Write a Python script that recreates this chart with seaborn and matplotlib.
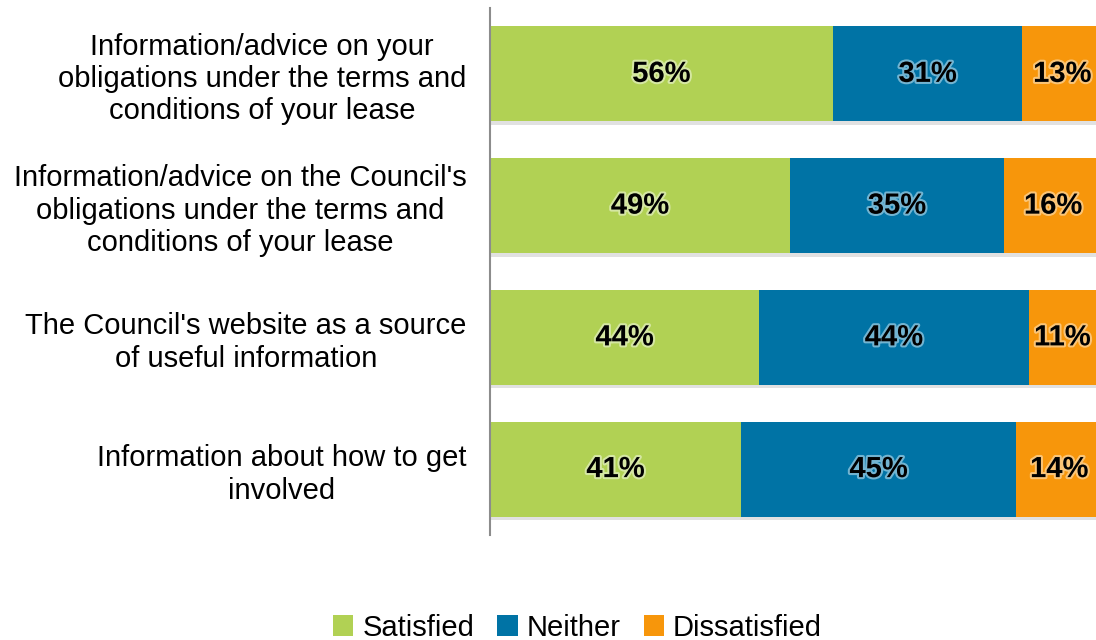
import matplotlib
matplotlib.use("Agg")
import matplotlib.pyplot as plt
import matplotlib.patheffects as pe
from matplotlib.patches import Patch
import numpy as np
import pandas as pd
import seaborn as sns

# Survey items and satisfaction shares (%)
items = [
    "Information/advice on your\nobligations under the terms and\nconditions of your lease",
    "Information/advice on the Council's\nobligations under the terms and\nconditions of your lease",
    "The Council's website as a source\nof useful information",
    "Information about how to get\ninvolved",
]
satisfied = [56, 49, 44, 41]
neither = [31, 35, 44, 45]
dissatisfied = [13, 16, 11, 14]

series_names = ["Satisfied", "Neither", "Dissatisfied"]
colors = ["#b1d154", "#0073a5", "#f7960b"]

sns.set_style("white")
plt.rcParams["font.family"] = ["Liberation Sans", "DejaVu Sans"]
plt.rcParams["text.color"] = "black"

df = pd.DataFrame({
    "item": items,
    "Satisfied": satisfied,
    "Neither": neither,
    "Dissatisfied": dissatisfied,
})
df["cum_neither"] = df["Satisfied"] + df["Neither"]
df["cum_all"] = df["cum_neither"] + df["Dissatisfied"]

fig = plt.figure(figsize=(10.96, 6.4), dpi=100)
ax = fig.add_axes([0.4471, 0.1641, 0.5584, 0.8234])

shadow = [pe.SimplePatchShadow(offset=(0, -2.5), shadow_rgbFace="#8a8a8a", alpha=0.25), pe.Normal()]

# Stacked bars: draw cumulative totals back to front
for col, color in [("cum_all", colors[2]),
                   ("cum_neither", colors[1]),
                   ("Satisfied", colors[0])]:
    sns.barplot(data=df, y="item", x=col, orient="h", color=color,
                width=0.72, saturation=1, ax=ax, linewidth=0)
n_items = len(items)
for bar in ax.patches[:n_items]:
    bar.set_path_effects(shadow)

# Value labels centred in each segment
glow_colors = ["#eef6d8", "#bfe0f0", "#fde4bf"]
for i in range(n_items):
    lefts = [0, satisfied[i], satisfied[i] + neither[i]]
    vals = [satisfied[i], neither[i], dissatisfied[i]]
    for left, v, gc in zip(lefts, vals, glow_colors):
        ax.text(left + v / 2, i, f"{v}%", ha="center", va="center",
                fontsize=21, fontweight="bold", color="black",
                path_effects=[pe.withStroke(linewidth=3, foreground=gc, alpha=0.6)])

ax.set_xlim(0, 100)
ax.set_ylim(n_items - 0.5, -0.5)
ax.set_xlabel("")
ax.set_ylabel("")
ax.set_xticks([])
ax.set_yticks(range(n_items))
ax.set_yticklabels(items, fontsize=21, ha="right", multialignment="center",
                   color="black", linespacing=1.2)
ax.tick_params(axis="y", length=0, pad=17)

for s in ["top", "right", "bottom"]:
    ax.spines[s].set_visible(False)
ax.spines["left"].set_color("#8c8c8c")
ax.spines["left"].set_linewidth(1.5)

handles = [Patch(facecolor=c, edgecolor="none", label=n) for c, n in zip(colors, series_names)]
fig.legend(handles=handles, loc="center", bbox_to_anchor=(0.527, 0.019), ncol=3,
           frameon=False, fontsize=21, handlelength=0.7, handleheight=0.7,
           handletextpad=0.3, columnspacing=0.8, labelcolor="black",
           borderpad=0.1)

fig.savefig("out.png", dpi=100)
